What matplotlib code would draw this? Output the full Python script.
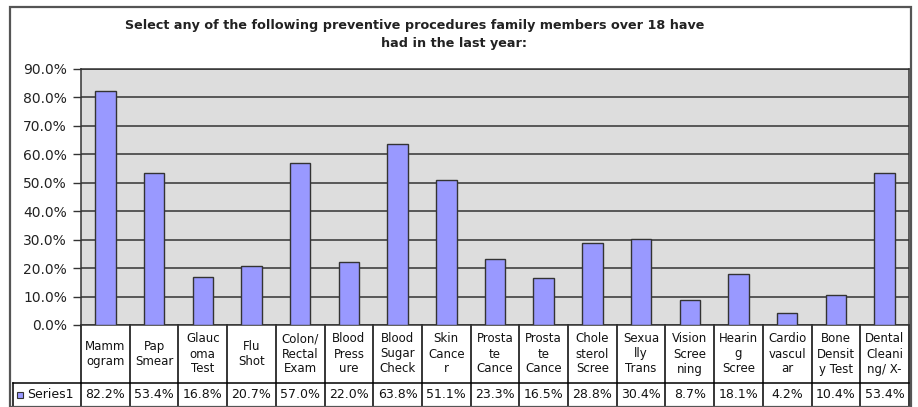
import matplotlib
matplotlib.use("Agg")
import matplotlib.pyplot as plt
from matplotlib.patches import Rectangle
import numpy as np

# chart data
labels = ["Mamm\nogram", "Pap\nSmear", "Glauc\noma\nTest", "Flu\nShot",
          "Colon/\nRectal\nExam", "Blood\nPress\nure", "Blood\nSugar\nCheck",
          "Skin\nCance\nr", "Prosta\nte\nCance", "Prosta\nte\nCance",
          "Chole\nsterol\nScree", "Sexua\nlly\nTrans", "Vision\nScree\nning",
          "Hearin\ng\nScree", "Cardio\nvascul\nar", "Bone\nDensit\ny Test",
          "Dental\nCleani\nng/ X-"]
values = [82.2, 53.4, 16.8, 20.7, 57.0, 22.0, 63.8, 51.1, 23.3, 16.5,
          28.8, 30.4, 8.7, 18.1, 4.2, 10.4, 53.4]
series_name = "Series1"
yticks = [0, 10, 20, 30, 40, 50, 60, 70, 80, 90]
title1 = "Select any of the following preventive procedures family members over 18 have"
title2 = "had in the last year:"

W, H = 918, 407
bar_col = "#9999FF"
line_col = "#333333"

fig = plt.figure(figsize=(W / 100, H / 100), dpi=100)
fig.patch.set_facecolor("white")

# outer chart border
fig.patches.append(Rectangle((10 / W, 0), 901 / W, 1 - 7 / H, transform=fig.transFigure,
                             fill=False, edgecolor="#555555", lw=1.6))

left, right, top, bottom = 81, 909, 69, 325
ax = fig.add_axes([left / W, 1 - bottom / H, (right - left) / W, (bottom - top) / H])
ax.set_facecolor("#DDDDDD")

x = np.arange(len(values))
ax.bar(x, values, width=0.42, color=bar_col, edgecolor="#333333", lw=1.0, zorder=3)

ax.set_xlim(-0.5, len(values) - 0.5)
ax.set_ylim(0, 90)
ax.set_yticks(yticks)
ax.set_yticklabels(["%.1f%%" % t for t in yticks], fontsize=10, color="#222222")
ax.yaxis.grid(True, color=line_col, lw=1.1, zorder=1)
ax.set_xticks([])
ax.tick_params(axis="y", length=6, width=1, color=line_col, pad=4)
for s in ax.spines.values():
    s.set_color(line_col)
    s.set_linewidth(1.1)

# data table below the plot
ax_h = bottom - top
row1 = -(383 - bottom) / ax_h
row2 = -(407 - bottom) / ax_h
tr = ax.get_xaxis_transform()
for b in np.arange(len(values) + 1) - 0.5:
    ax.plot([b, b], [0, row2], transform=tr, color="black", lw=1.1, clip_on=False)
ax.plot([-0.5, len(values) - 0.5], [row1, row1], transform=tr, color="black", lw=1.1, clip_on=False)
for i, (lab, v) in enumerate(zip(labels, values)):
    ax.text(i, row1 / 2, lab, transform=tr, ha="center", va="center", fontsize=8.5,
            linespacing=1.2, color="#111111")
    ax.text(i, (row1 + row2) / 2, "%.1f%%" % v, transform=tr, ha="center", va="center",
            fontsize=9, color="#111111")

# series label cell
ax_w = right - left
cx0 = (13 - left) / ax_w
ax.plot([cx0, 0], [row1, row1], transform=ax.transAxes, color="black", lw=1.1, clip_on=False)
ax.plot([cx0, cx0], [row1, row2], transform=ax.transAxes, color="black", lw=1.1, clip_on=False)
ax.add_patch(Rectangle(((17 - left) / ax_w, (row1 + row2) / 2 - 3.2 / ax_h), 6.5 / ax_w, 6.5 / ax_h,
                       transform=ax.transAxes, facecolor=bar_col, edgecolor="#333333",
                       lw=0.8, clip_on=False))
ax.text((27 - left) / ax_w, (row1 + row2) / 2, series_name, transform=ax.transAxes,
        ha="left", va="center", fontsize=9, color="#111111")

fig.text(415 / W, 1 - 25 / H, title1, ha="center", va="center", fontsize=9.2,
         fontweight="bold", color="#222222")
fig.text(454 / W, 1 - 43 / H, title2, ha="center", va="center", fontsize=9.2,
         fontweight="bold", color="#222222")

fig.savefig("out.png", dpi=100)
